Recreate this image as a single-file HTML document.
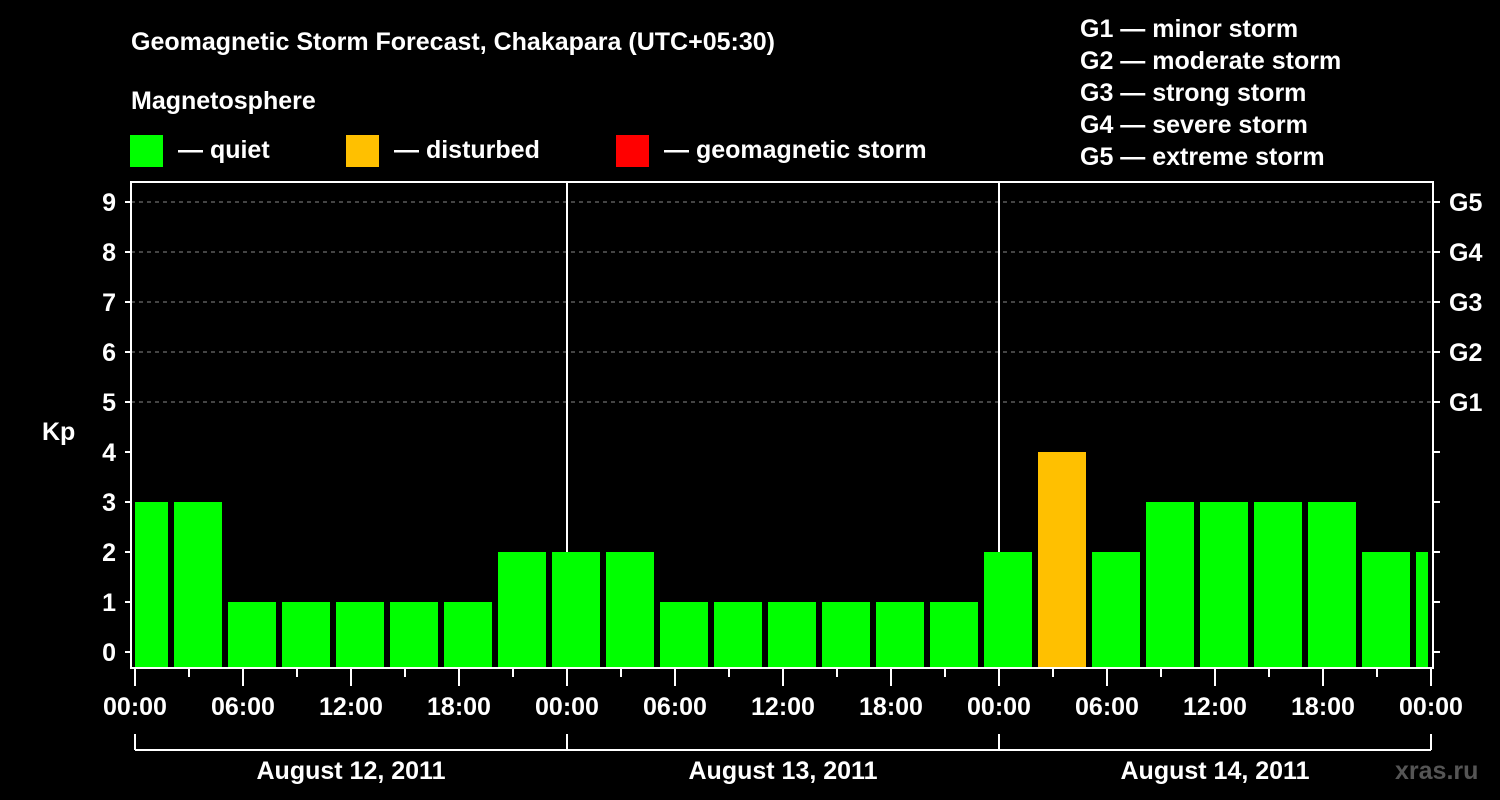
<!DOCTYPE html>
<html><head><meta charset="utf-8"><style>
html,body{margin:0;padding:0;background:#000;width:1500px;height:800px;overflow:hidden}
svg text{font-family:"Liberation Sans",Arial,sans-serif;font-weight:bold;fill:#fff}
</style></head><body>
<svg id="chart" width="1500" height="800" xmlns="http://www.w3.org/2000/svg">
<rect width="1500" height="800" fill="#000"/>
<text x="131" y="50" font-size="25">Geomagnetic Storm Forecast, Chakapara (UTC+05:30)</text>
<text x="131" y="109" font-size="25">Magnetosphere</text>
<g><rect x="130" y="135" width="33" height="32" fill="#00ff00"/><text x="178" y="158" font-size="25">— quiet</text></g>
<g><rect x="346" y="135" width="33" height="32" fill="#ffc000"/><text x="394" y="158" font-size="25">— disturbed</text></g>
<g><rect x="616" y="135" width="33" height="32" fill="#ff0000"/><text x="664" y="158" font-size="25">— geomagnetic storm</text></g>
<g font-size="25">
<text x="1080" y="37">G1 — minor storm</text>
<text x="1080" y="69">G2 — moderate storm</text>
<text x="1080" y="101">G3 — strong storm</text>
<text x="1080" y="133">G4 — severe storm</text>
<text x="1080" y="165">G5 — extreme storm</text>
</g>
<text x="42" y="440" font-size="25">Kp</text>
<text x="1395" y="779" font-size="25" style="fill:#555">xras.ru</text>
<g id="grid"></g><g id="bars"></g><g id="axes"></g>
</svg>
<script>
const values=[3,3,1,1,1,1,1,2,2,2,1,1,1,1,1,1,2,4,2,3,3,3,3,2,2];
const yTicks=[0,1,2,3,4,5,6,7,8,9];
const gLabels=["G1","G2","G3","G4","G5"];
const gLevels=[5,6,7,8,9];
const hourLabels=["00:00","06:00","12:00","18:00","00:00","06:00","12:00","18:00","00:00","06:00","12:00","18:00","00:00"];
const dayLabels=["August 12, 2011","August 13, 2011","August 14, 2011"];
const firstBarHour=-0.8333;
const NS="http://www.w3.org/2000/svg";
const X0=135,PXH=18,Y0=652,PXU=50,L=131,R=1433,T=182,B=668;
const xs=h=>X0+h*PXH, ys=v=>Y0-v*PXU;
function mk(tag,attrs,parent){const e=document.createElementNS(NS,tag);for(const k in attrs)e.setAttribute(k,attrs[k]);parent.appendChild(e);return e;}
const grid=document.getElementById('grid'),bars=document.getElementById('bars'),axes=document.getElementById('axes');
gLevels.forEach((v,i)=>{
 const l=mk('line',{x1:L,x2:R,y1:ys(v),y2:ys(v),stroke:'#888','stroke-dasharray':'4,4','stroke-width':1},grid);
 
 
 const t=mk('text',{x:1449,y:ys(v)+9,'font-size':25},axes);t.textContent=gLabels[i];
 
 
});
[24,48].forEach(h=>{const l=mk('line',{x1:xs(h),x2:xs(h),y1:T,y2:B,stroke:'#fff','stroke-width':2},grid);
 
 });
values.forEach((v,i)=>{
 let x1=xs(firstBarHour+i*3),x2=x1+48*PXH*3/54;
 x1=Math.max(x1,X0);x2=Math.min(x2,1428);
 if(x2<=x1)return;
 const c=v>=5?'#ff0000':(v>=4?'#ffc000':'#00ff00');
 const r=mk('rect',{x:x1,y:ys(v),width:x2-x1,height:B-ys(v),fill:c},bars);
 
 
});
const f=mk('rect',{x:L,y:T,width:R-L,height:B-T,fill:'none',stroke:'#fff','stroke-width':2},axes);


yTicks.forEach(v=>{
 mk('line',{x1:L-6,x2:L,y1:ys(v),y2:ys(v),stroke:'#fff','stroke-width':2},axes);
 mk('line',{x1:R,x2:R+7,y1:ys(v),y2:ys(v),stroke:'#fff','stroke-width':2},axes);
 const t=mk('text',{x:116,y:ys(v)+9,'font-size':25,'text-anchor':'end'},axes);t.textContent=v;
 
 
});
for(let h=0;h<=72;h+=3){const major=h%6===0;
 mk('line',{x1:xs(h),x2:xs(h),y1:B,y2:B+(major?18:9),stroke:'#fff','stroke-width':2},axes);}
hourLabels.forEach((s,i)=>{const t=mk('text',{x:xs(i*6),y:715,'font-size':25,'text-anchor':'middle'},axes);t.textContent=s;
 
 });
mk('line',{x1:xs(0),x2:xs(72),y1:750,y2:750,stroke:'#fff','stroke-width':2},axes);
[0,24,48,72].forEach(h=>mk('line',{x1:xs(h),x2:xs(h),y1:734,y2:750,stroke:'#fff','stroke-width':2},axes));
dayLabels.forEach((s,i)=>{const t=mk('text',{x:xs(i*24+12),y:779,'font-size':25,'text-anchor':'middle'},axes);t.textContent=s;
 
 });
</script>
</body></html>
